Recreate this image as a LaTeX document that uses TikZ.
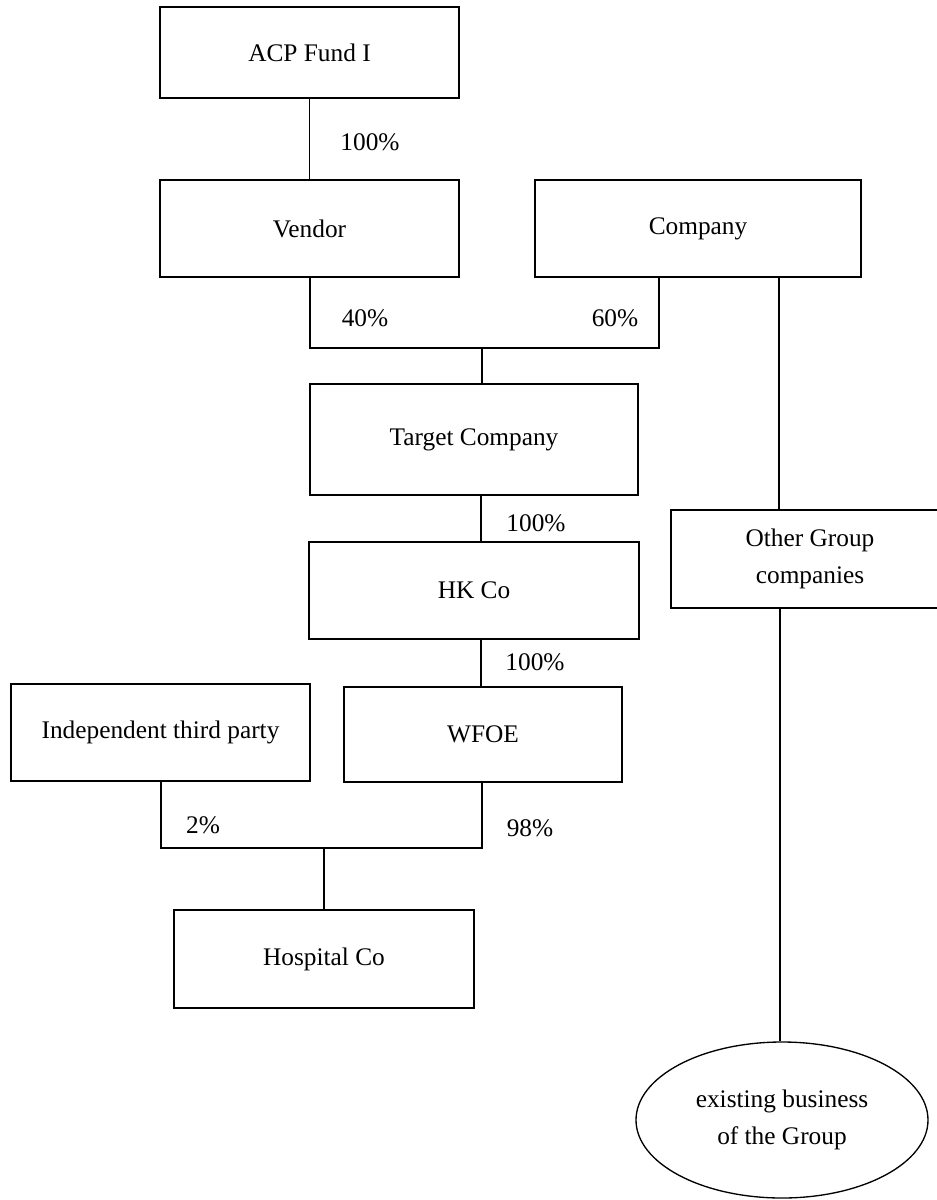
\documentclass[tikz,border=0pt]{standalone}
\usepackage{fontspec}
\setmainfont{Liberation Serif}
\usetikzlibrary{shapes.geometric,calc}
\newdimen\px \px=0.75pt
\tikzset{
  boxnode/.style={draw, line width=1pt, rectangle, inner sep=0pt, align=center, font=\fontsize{19}{28}\selectfont},
  ovalnode/.style={draw, line width=1pt, ellipse, inner sep=0pt, align=center, font=\fontsize{19}{28}\selectfont},
  pct/.style={inner sep=0pt, font=\fontsize{19}{28}\selectfont},
  link/.style={line width=1pt}
}
\begin{document}
\begin{tikzpicture}[x=0.75pt,y=-0.75pt]
\useasboundingbox (0,0) rectangle (937,1200);
% boxes
\node[boxnode, minimum width=299\px, minimum height=91\px] (acp) at (309.5,52.5) {ACP Fund I};
\node[boxnode, minimum width=299\px, minimum height=97\px] (vendor) at (309.5,228.5) {Vendor};
\node[boxnode, minimum width=326\px, minimum height=97\px] (company) at (698,228.5) {Company};
\node[boxnode, minimum width=328\px, minimum height=111\px] (target) at (474,439.5) {Target Company};
\node[boxnode, minimum width=330\px, minimum height=97\px] (hk) at (474,590.5) {HK Co};
\node[boxnode, minimum width=299\px, minimum height=97\px] (indep) at (160.5,732.5) {Independent third party};
\node[boxnode, minimum width=278\px, minimum height=95\px] (wfoe) at (483,734.5) {WFOE};
\node[boxnode, minimum width=300\px, minimum height=98\px] (hosp) at (324,959) {Hospital Co};
\node[boxnode, minimum width=278\px, minimum height=98\px] (other) at (810,559) {Other Group\\companies};
\node[ovalnode, minimum width=292\px, minimum height=156\px] (exist) at (782,1120) {existing business\\of the Group};
% junction coordinates
\coordinate (vcL) at (310,277);
\coordinate (coL) at (659,277);
\coordinate (coR) at (779,277);
\coordinate (j1) at (482,348);
\coordinate (j2) at (324,848);
\coordinate (inL) at (161,781);
\coordinate (wfL) at (482,782);
% connectors
\draw[link] (acp.south) -- (vendor.north);
\draw[link] (vcL) |- (j1) -| (coL);
\draw[link] (j1) -- (j1 |- target.north);
\draw[link] (481,495) coordinate (tb) -- (tb |- hk.north);
\draw[link] (481,639) coordinate (hb) -- (hb |- wfoe.north);
\draw[link] (inL) |- (j2) -| (wfL);
\draw[link] (j2) -- (hosp.north);
\draw[link] (coR) -- (coR |- other.north);
\draw[link] (780,608) coordinate (ob) -- (ob |- exist.north);
% labels
\node[pct] (p1) at (370,142) {100\%};
\node[pct] (p2) at (365,318) {40\%};
\node[pct] (p3) at (615,318) {60\%};
\node[pct] (p4) at (536,523) {100\%};
\node[pct] (p5) at (535,662) {100\%};
\node[pct] (p6) at (203,825) {2\%};
\node[pct] (p7) at (530,828) {98\%};
\end{tikzpicture}
\end{document}
